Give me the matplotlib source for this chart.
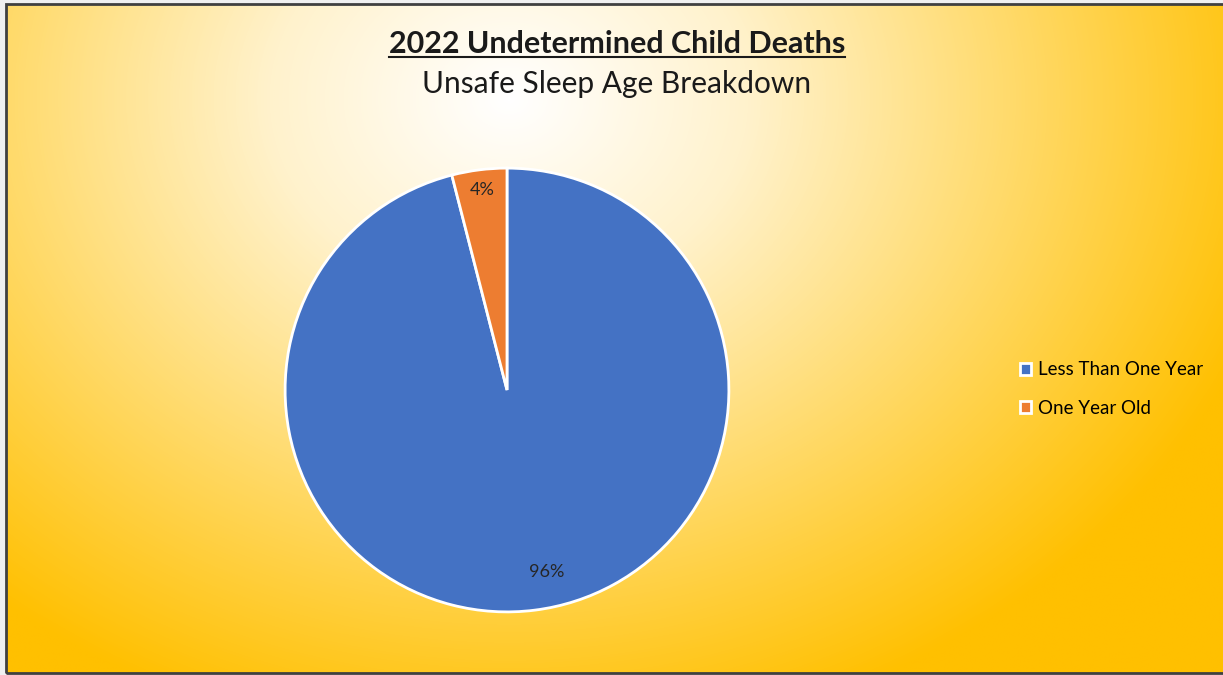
import numpy as np
import matplotlib.pyplot as plt
from matplotlib.colors import LinearSegmentedColormap
from matplotlib.patches import Rectangle
from matplotlib.lines import Line2D

# chart data
labels = ["Less Than One Year", "One Year Old"]
shares = [96, 4]
colors = ["#4472C4", "#ED7D31"]
title = "2022 Undetermined Child Deaths"
subtitle = "Unsafe Sleep Age Breakdown"

plt.rcParams['font.family'] = ['Lato', 'DejaVu Sans']

W, H = 1223, 675
fig = plt.figure(figsize=(W / 100, H / 100), dpi=100)
fig.patch.set_facecolor("#f0f0f0")

# radial gradient background (white centre -> gold edges)
bg = fig.add_axes([6 / W, 2 / H, 1 - 6 / W, 1 - 6 / H])
bg.set_axis_off()
yy, xx = np.mgrid[0:H, 0:W]
cx, cy = 505, 95
d = np.sqrt(((xx - cx) / 800.0) ** 2 + ((yy - cy) / 660.0) ** 2)
d = np.clip(d, 0, 1)
cmap = LinearSegmentedColormap.from_list(
    "bg", [(0, "#ffffff"), (0.3, "#fff2cc"), (0.65, "#ffd966"), (1, "#ffc000")])
bg.imshow(d, cmap=cmap, vmin=0, vmax=1, aspect="auto", extent=(0, 1, 0, 1))
bg.set_xlim(0, 1)
bg.set_ylim(0, 1)
bg.add_patch(Rectangle((0, 0), 1.02, 1, transform=bg.transAxes, fill=False,
                       edgecolor="#404040", linewidth=2, clip_on=False))

# pie
r = 223
ax = fig.add_axes([(507 - r) / W, (H - 390 - r) / H, 2 * r / W, 2 * r / H])
wedges, texts, autotexts = ax.pie(
    shares, colors=colors, startangle=90, counterclock=False,
    autopct="%d%%", pctdistance=0.86,
    wedgeprops=dict(edgecolor="white", linewidth=2),
    textprops=dict(fontsize=13, color="#262626"))
# nudge labels the way Excel places them
for w, txt, dist, shift in zip(wedges, autotexts, [0.84, 0.91], [5, 0]):
    ang = np.deg2rad((w.theta1 + w.theta2) / 2 + shift)
    txt.set_position((dist * np.cos(ang), dist * np.sin(ang)))
ax.set_xlim(-1.005, 1.005)
ax.set_ylim(-1.005, 1.005)
ax.set_aspect("equal")

# titles
t = fig.text(617 / W, 1 - 44 / H, title, ha="center", va="center",
             fontsize=22, fontweight="bold", color="#1a1a1a")
fig.text(617 / W, 1 - 84 / H, subtitle, ha="center", va="center",
         fontsize=21.5, color="#1a1a1a")
fig.canvas.draw()
bb = t.get_window_extent().transformed(fig.transFigure.inverted())
fig.add_artist(Line2D([bb.x0, bb.x1], [bb.y0 + 0.002, bb.y0 + 0.002],
                      transform=fig.transFigure, color="#1a1a1a", lw=1.5))

# legend
leg = fig.legend(wedges, labels, loc="center left",
                 bbox_to_anchor=(1003 / W, 1 - 389 / H), frameon=False,
                 fontsize=13.5, handlelength=0.6, handleheight=0.6,
                 handletextpad=0.35, labelspacing=1.15)

fig.savefig("out.png", dpi=100)
